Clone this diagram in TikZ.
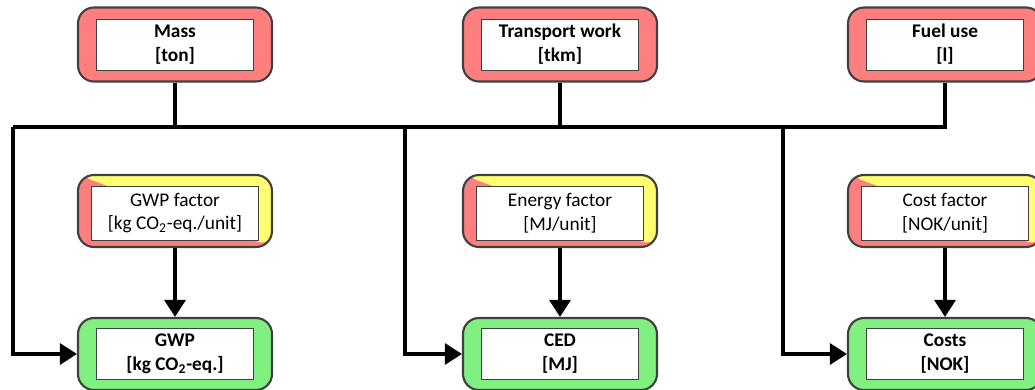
\documentclass[tikz,border=0pt]{standalone}
\usepackage{fontspec}
\setmainfont{Carlito}
\usetikzlibrary{arrows.meta}

\definecolor{inred}{HTML}{FF7F7F}
\definecolor{inyellow}{HTML}{FFFF70}
\definecolor{outgreen}{HTML}{80F080}
\definecolor{rim}{HTML}{404040}

\tikzset{
  frame/.style={draw=rim,line width=1.2pt,rounded corners=0.32cm,minimum width=3.88cm,minimum height=1.48cm},
  input/.style={frame,fill=inred},
  factor/.style={frame,minimum height=1.44cm,fill=inred,
    path picture={\fill[inyellow] (path picture bounding box.north west) -- (path picture bounding box.north east) -- (path picture bounding box.south east) -- cycle;}},
  result/.style={frame,minimum height=1.44cm,fill=outgreen},
  label/.style={draw=black!75,fill=white,line width=0.5pt,minimum width=3.14cm,minimum height=1.02cm,
    align=center,inner sep=1pt,font=\fontsize{11}{13.6}\selectfont},
  labelb/.style={label,font=\fontsize{11}{13.6}\selectfont\bfseries},
  labelf/.style={label,minimum width=3.34cm,minimum height=1.08cm},
  flow/.style={line width=1.8pt},
  feed/.style={flow,-{Triangle[length=0.34cm,width=0.42cm]}},
}

\begin{document}
\begin{tikzpicture}
  \useasboundingbox (0,0) rectangle (20.7,-7.8);
  % inputs
  \node[input] (mass) at (3.5,-0.89) {};
  \node[labelb] (massl) at (mass) {Mass\\{[ton]}};
  \node[input] (work) at (11.2,-0.89) {};
  \node[labelb] (workl) at (work) {Transport work\\{[tkm]}};
  \node[input] (fuel) at (18.9,-0.89) {};
  \node[labelb] (fuell) at (fuel) {Fuel use\\{[l]}};
  % factors
  \node[factor] (gwpf) at (3.5,-4.22) {};
  \node[labelf] (gwpfl) at ([yshift=-0.04cm]gwpf) {GWP factor\\{[kg CO\textsubscript{2}-eq./unit]}};
  \node[factor] (cedf) at (11.2,-4.22) {};
  \node[labelf] (cedfl) at ([yshift=-0.04cm]cedf) {Energy factor\\{[MJ/unit]}};
  \node[factor] (costf) at (18.9,-4.22) {};
  \node[labelf] (costfl) at ([yshift=-0.04cm]costf) {Cost factor\\{[NOK/unit]}};
  % results
  \node[result] (gwp) at (3.5,-7.08) {};
  \node[labelb] (gwpl) at (gwp) {GWP\\{[kg CO\textsubscript{2}-eq.]}};
  \node[result] (ced) at (11.2,-7.08) {};
  \node[labelb] (cedl) at (ced) {CED\\{[MJ]}};
  \node[result] (cost) at (18.9,-7.08) {};
  \node[labelb] (costl) at (cost) {Costs\\{[NOK]}};
  % bus
  \coordinate (busa) at (0.26,-2.54);
  \coordinate (busb) at (8.1,-2.54);
  \coordinate (busc) at (15.66,-2.54);
  \draw[flow] (busa) -- (fuel.south |- busa) -- (fuel.south);
  \draw[flow] (mass.south) -- (mass.south |- busa);
  \draw[flow] (work.south) -- (work.south |- busa);
  \draw[feed] (busa) |- (gwp.west);
  \draw[feed] (busb) |- (ced.west);
  \draw[feed] (busc) |- (cost.west);
  \draw[feed] (gwpf.south) -- (gwp.north);
  \draw[feed] (cedf.south) -- (ced.north);
  \draw[feed] (costf.south) -- (cost.north);
\end{tikzpicture}
\end{document}
